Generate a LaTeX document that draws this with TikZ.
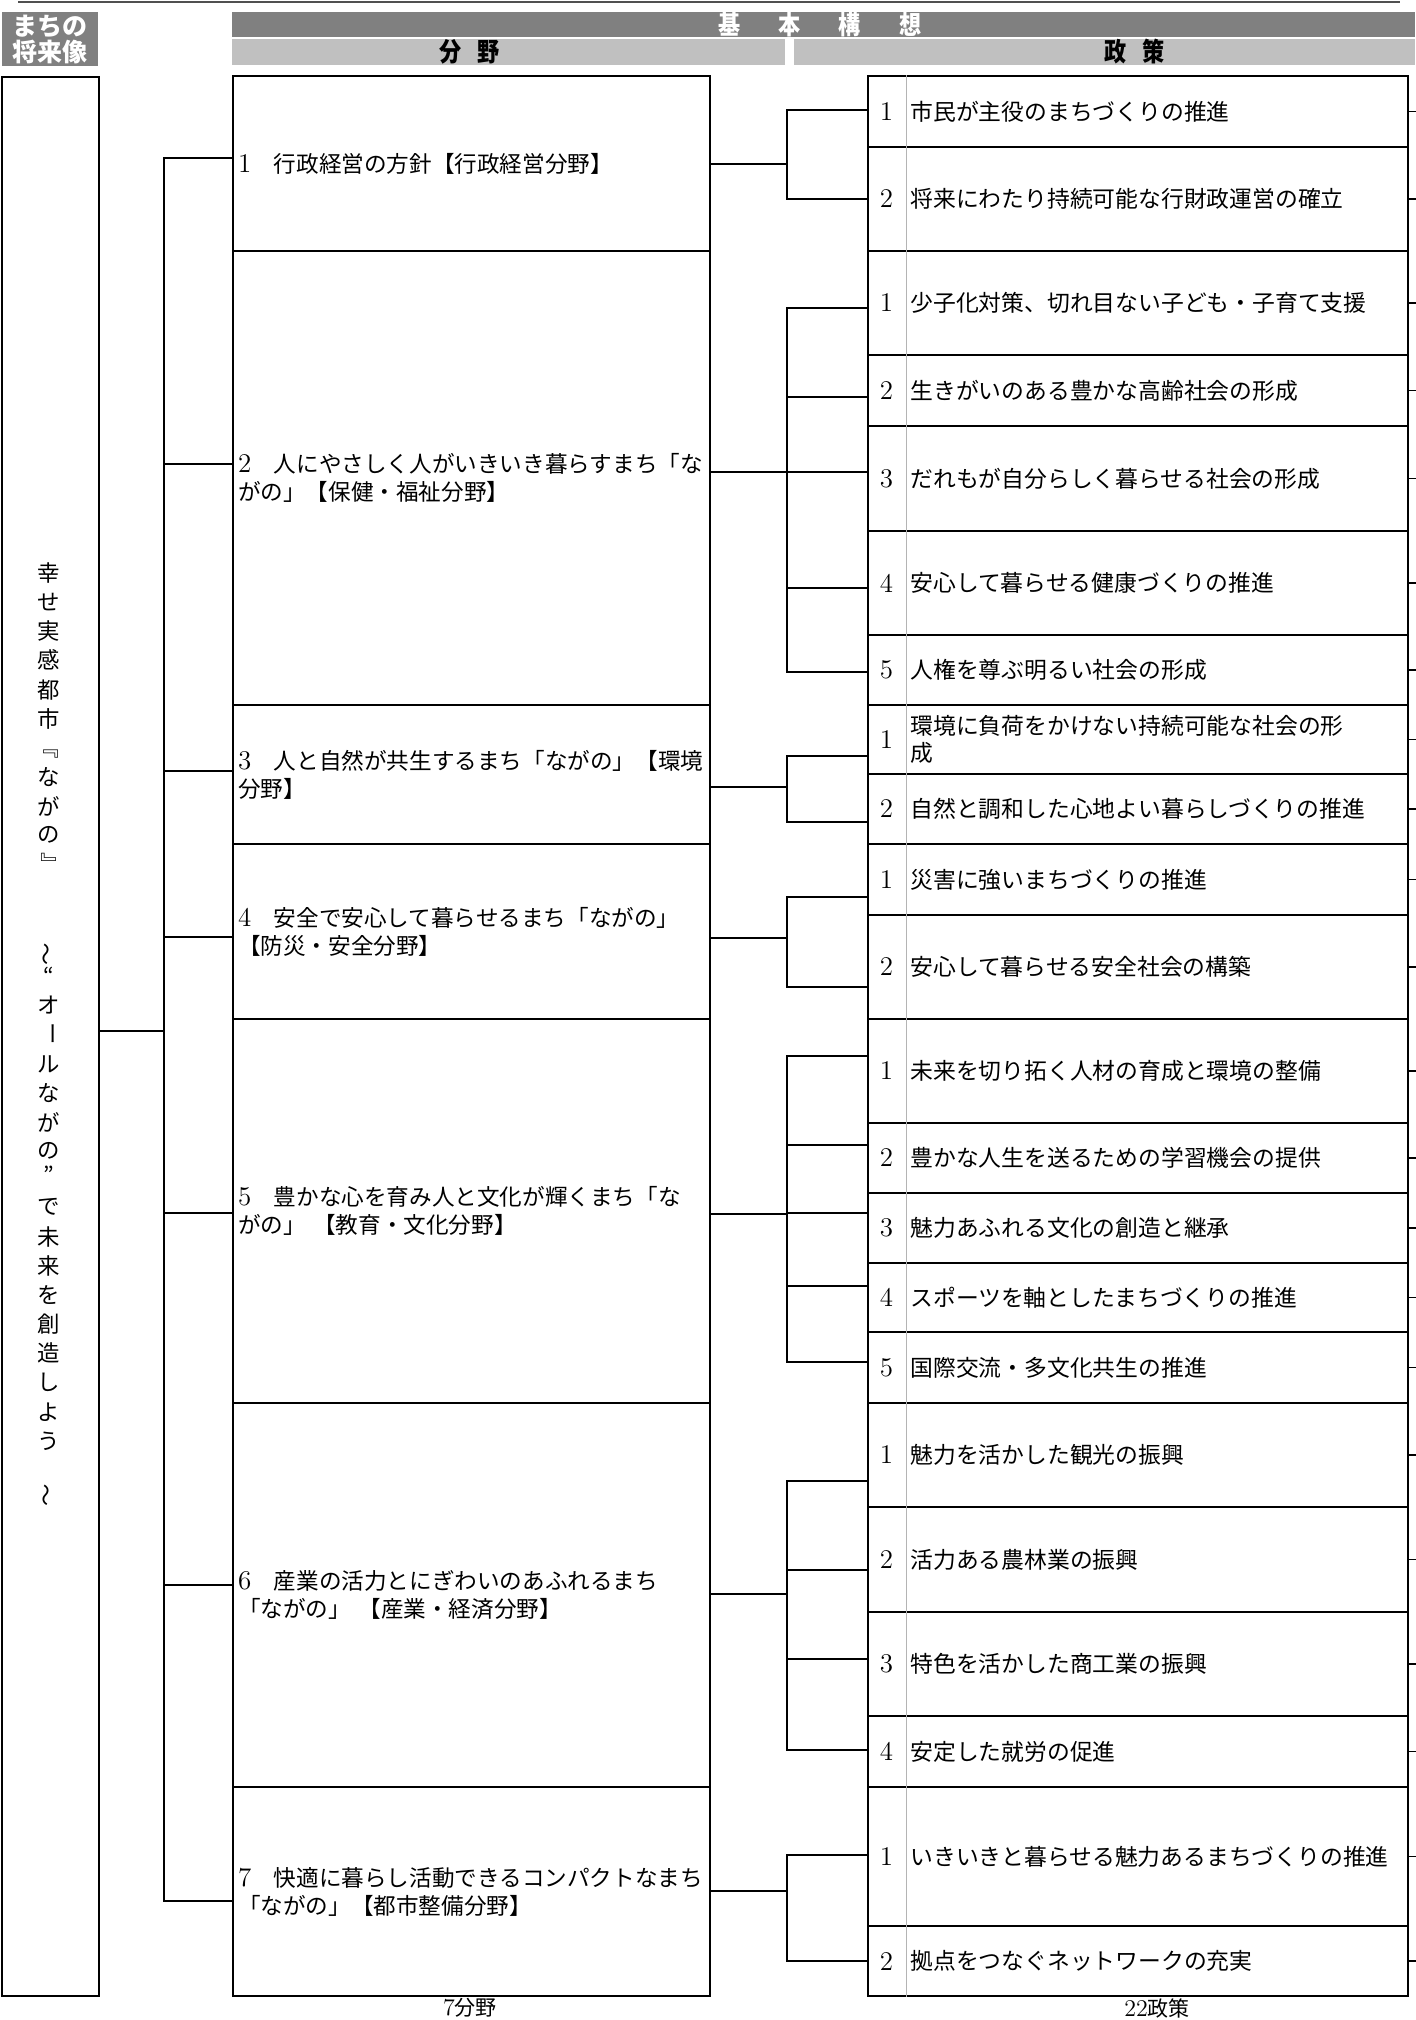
\documentclass[tikz,border=0pt]{standalone}
\usepackage{fontspec}
\usepackage{xcolor}
\newfontfamily\jp{Noto Sans CJK JP}
\newfontfamily\jphead{Noto Sans CJK JP}[FakeStretch=0.85]
\definecolor{barDark}{HTML}{808080}
\definecolor{barLight}{HTML}{C0C0C0}
\definecolor{sepGray}{HTML}{B4B4B4}
\definecolor{ruleGray}{HTML}{505050}

\tikzset{
  boxline/.style={draw=black, line width=1pt},
  conn/.style={draw=black, line width=0.8pt},
  sepline/.style={draw=sepGray, line width=0.5pt},
  fieldbox/.style={boxline, rectangle, anchor=north west, minimum width=238.5pt,
    text width=233.5pt, inner xsep=2.5pt, inner ysep=0pt, align=left,
    font=\jp\fontsize{11.3}{14}\selectfont},
  policybox/.style={boxline, rectangle, anchor=north west, minimum width=270pt, inner sep=0pt},
  polnum/.style={inner sep=0pt, font=\rmfamily\fontsize{13.5}{14}\selectfont},
  poltext/.style={anchor=west, inner sep=0pt, align=left, font=\jp\fontsize{11.4}{13.5}\selectfont},
  hdbar/.style={rectangle, anchor=north west, inner sep=0pt},
  hdtext/.style={inner sep=0pt, font=\jphead\bfseries\fontsize{13}{13}\selectfont},
  vchar/.style={inner sep=0pt, font=\jp\fontsize{11.2}{11}\selectfont},
  foot/.style={inner sep=0pt, font=\jp\fontsize{10.5}{12}\selectfont},
}

% number + text of a field
\newcommand{\fieldText}[2]{{\rmfamily\fontsize{13.5}{14}\selectfont #1}\hspace{1em}#2}
% name, top, bottom, y in, y out, text
\newcommand{\fieldnode}[6]{%
  \node[fieldbox, minimum height={(#3-#2)*0.5pt}] (#1) at (232,#2) {#6};
  \coordinate (#1in) at (232,#4);
  \coordinate (#1out) at (709,#5);
}
% name, top, bottom, arm y, number, text
\newcommand{\policyrow}[6]{%
  \node[policybox, minimum height={(#3-#2)*0.5pt}] (#1) at (867,#2) {};
  \draw[sepline] ([xshift=19.5pt]#1.north west) -- ([xshift=19.5pt]#1.south west);
  \node[polnum] (#1num) at ([xshift=9.75pt]#1.west) {#5};
  \node[poltext] (#1txt) at ([xshift=21.5pt]#1.west) {#6};
  \coordinate (#1a) at (867,#4);
  \draw[conn] (#1.east) -- ++(8,0);
}

\begin{document}
\begin{tikzpicture}[x=0.5pt, y=-0.5pt]
\useasboundingbox (0,0) rectangle (1415,2020);

% header
\draw[ruleGray, line width=1pt] (18,1.5) -- (1400,1.5);
\node[hdbar, fill=barDark, minimum width=48pt, minimum height=27pt, text=white, align=center,
  font=\jp\bfseries\fontsize{12.5}{13}\selectfont] (mirai) at (2,12) {まちの\\将来像};
\node[hdbar, fill=barDark, minimum width=591.5pt, minimum height=12.5pt] (kihon) at (232,12) {};
\node[hdtext, text=white] (kihonT) at (820,24.5) {基\hspace{19pt}本\hspace{19pt}構\hspace{19pt}想};
\node[hdbar, fill=barLight, minimum width=276.5pt, minimum height=13pt] (bunya) at (232,39) {};
\node[hdtext] (bunyaT) at (470,52) {分\hspace{8pt}野};
\node[hdbar, fill=barLight, minimum width=310.5pt, minimum height=13pt] (seisaku) at (794,39) {};
\node[hdtext] (seisakuT) at (1135,52) {政\hspace{8pt}策};

% vision
\node[boxline, hdbar, minimum width=48.5pt, minimum height=959.5pt] (vision) at (1,76) {};
\foreach \ch/\py/\rot [count=\i] in {幸/573/0, せ/602/0, 実/631/0, 感/660/0, 都/690/0,
    市/719/0, 『/748/-90, な/777/0, が/806/0, の/835/0, 』/864/-90,
    ～/954/90, “/976/0, オ/1005/0, ー/1034/-90, ル/1064/0, な/1093/0, が/1122/0,
    の/1151/0, ”/1175/0, で/1207/0, 未/1237/0, 来/1266/0, を/1295/0, 創/1324/0,
    造/1353/0, し/1382/0, よ/1412/0, う/1441/0, ～/1495/90}
  \node[vchar, rotate=\rot] (v\i) at (49,\py) {\ch};

% fields
\fieldnode{f1}{75}{250}{158}{164}{\fieldText{1}{行政経営の方針【行政経営分野】}}
\fieldnode{f2}{250}{704}{464}{472}{\fieldText{2}{人にやさしく人がいきいき暮らすまち「な\\がの」【保健・福祉分野】}}
\fieldnode{f3}{704}{843}{771}{787}{\fieldText{3}{人と自然が共生するまち「ながの」【環境\\分野】}}
\fieldnode{f4}{843}{1018}{937}{938}{\fieldText{4}{安全で安心して暮らせるまち「ながの」\\【防災・安全分野】}}
\fieldnode{f5}{1018}{1402}{1213}{1214}{\fieldText{5}{豊かな心を育み人と文化が輝くまち「な\\がの」 【教育・文化分野】}}
\fieldnode{f6}{1402}{1786}{1585}{1594}{\fieldText{6}{産業の活力とにぎわいのあふれるまち\\「ながの」 【産業・経済分野】}}
\fieldnode{f7}{1786}{1995}{1901}{1891}{\fieldText{7}{快適に暮らし活動できるコンパクトなまち\\「ながの」【都市整備分野】}}

% policies
\policyrow{p11}{75}{146}{110}{1}{市民が主役のまちづくりの推進}
\policyrow{p12}{146}{250}{199}{2}{将来にわたり持続可能な行財政運営の確立}
\policyrow{p21}{250}{354}{308}{1}{少子化対策、切れ目ない子ども・子育て支援}
\policyrow{p22}{354}{425}{397}{2}{生きがいのある豊かな高齢社会の形成}
\policyrow{p23}{425}{530}{472}{3}{だれもが自分らしく暮らせる社会の形成}
\policyrow{p24}{530}{634}{588}{4}{安心して暮らせる健康づくりの推進}
\policyrow{p25}{634}{704}{672}{5}{人権を尊ぶ明るい社会の形成}
\policyrow{p31}{704}{773}{756}{1}{環境に負荷をかけない持続可能な社会の形\\成}
\policyrow{p32}{773}{843}{822}{2}{自然と調和した心地よい暮らしづくりの推進}
\policyrow{p41}{843}{914}{897}{1}{災害に強いまちづくりの推進}
\policyrow{p42}{914}{1018}{987}{2}{安心して暮らせる安全社会の構築}
\policyrow{p51}{1018}{1122}{1056}{1}{未来を切り拓く人材の育成と環境の整備}
\policyrow{p52}{1122}{1192}{1145}{2}{豊かな人生を送るための学習機会の提供}
\policyrow{p53}{1192}{1262}{1213}{3}{魅力あふれる文化の創造と継承}
\policyrow{p54}{1262}{1331}{1286}{4}{スポーツを軸としたまちづくりの推進}
\policyrow{p55}{1331}{1402}{1362}{5}{国際交流・多文化共生の推進}
\policyrow{p61}{1402}{1506}{1481}{1}{魅力を活かした観光の振興}
\policyrow{p62}{1506}{1611}{1570}{2}{活力ある農林業の振興}
\policyrow{p63}{1611}{1715}{1659}{3}{特色を活かした商工業の振興}
\policyrow{p64}{1715}{1786}{1750}{4}{安定した就労の促進}
\policyrow{p71}{1786}{1925}{1855}{1}{いきいきと暮らせる魅力あるまちづくりの推進}
\policyrow{p72}{1925}{1995}{1961}{2}{拠点をつなぐネットワークの充実}

% connectors
\coordinate (trunk) at (164,0);
\coordinate (brk) at (787,0);
\coordinate (visout) at (98,1031);
\foreach \fld in {f1,f2,f3,f4,f5,f6,f7}
  \draw[conn] (visout) -| (trunk |- \fld in) -- (\fld in);
\foreach \pol in {p11,p12}
  \draw[conn] (f1out) -| (brk |- \pol a) -- (\pol a);
\foreach \pol in {p21,p22,p23,p24,p25}
  \draw[conn] (f2out) -| (brk |- \pol a) -- (\pol a);
\foreach \pol in {p31,p32}
  \draw[conn] (f3out) -| (brk |- \pol a) -- (\pol a);
\foreach \pol in {p41,p42}
  \draw[conn] (f4out) -| (brk |- \pol a) -- (\pol a);
\foreach \pol in {p51,p52,p53,p54,p55}
  \draw[conn] (f5out) -| (brk |- \pol a) -- (\pol a);
\foreach \pol in {p61,p62,p63,p64}
  \draw[conn] (f6out) -| (brk |- \pol a) -- (\pol a);
\foreach \pol in {p71,p72}
  \draw[conn] (f7out) -| (brk |- \pol a) -- (\pol a);

% totals
\node[foot] (sumF) at (470,2008) {{\rmfamily\fontsize{12}{12}\selectfont 7}分野};
\node[foot] (sumP) at (1157,2008) {{\rmfamily\fontsize{12}{12}\selectfont 22}政策};
\end{tikzpicture}
\end{document}
